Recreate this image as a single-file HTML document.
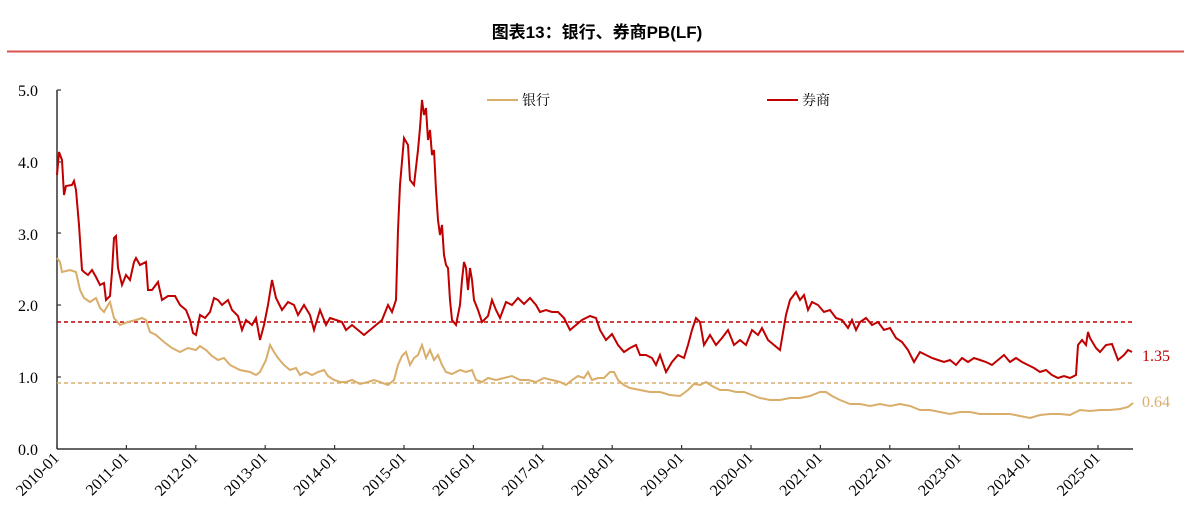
<!DOCTYPE html>
<html><head><meta charset="utf-8"><style>
body{margin:0;background:#fff;width:1194px;height:525px;overflow:hidden}
svg text{font-family:"Liberation Serif","Noto Serif CJK SC",serif}
</style></head><body>
<svg width="1194" height="525" viewBox="0 0 1194 525" xmlns="http://www.w3.org/2000/svg">
<text x="597" y="38" text-anchor="middle" font-size="17" font-weight="bold" style="font-family:'Liberation Sans','Noto Sans CJK SC',sans-serif">图表13：银行、券商PB(LF)</text>
<line x1="7" y1="51.5" x2="1184" y2="51.5" stroke="#d9534f" stroke-width="2"/>
<g font-size="16" fill="#000" text-anchor="end">
<text x="38" y="96">5.0</text><text x="38" y="168">4.0</text><text x="38" y="240">3.0</text><text x="38" y="311">2.0</text><text x="38" y="383">1.0</text><text x="38" y="455">0.0</text>
</g>
<line x1="57" y1="90" x2="57" y2="449" stroke="#333" stroke-width="1.5"/>
<line x1="57" y1="449" x2="1133" y2="449" stroke="#333" stroke-width="1.5"/>
<g stroke="#333" stroke-width="1.2">
<line x1="57" y1="90" x2="61" y2="90"/><line x1="57" y1="162" x2="61" y2="162"/><line x1="57" y1="233" x2="61" y2="233"/><line x1="57" y1="305" x2="61" y2="305"/><line x1="57" y1="377" x2="61" y2="377"/>
</g>
<line x1="57" y1="322" x2="1133" y2="322" stroke="#c00000" stroke-width="1.5" stroke-dasharray="4,3"/>
<line x1="57" y1="383" x2="1133" y2="383" stroke="#d9ad6a" stroke-width="1.5" stroke-dasharray="4,3"/>
<polyline fill="none" stroke="#d9ad6a" stroke-width="2" points="57,258 60,262 62,272 70,270 76,272 80,290 84,298 90,302 96,298 100,308 104,312 108,305 110,302 114,318 120,325 128,322 136,320 142,318 146,320 150,332 156,335 164,342 172,348 180,352 188,348 196,350 200,346 206,350 212,356 218,360 224,358 230,365 240,370 250,372 256,375 260,372 266,360 270,345 274,352 278,358 284,365 290,370 296,368 300,375 306,372 312,375 318,372 324,370 328,376 334,380 340,382 346,382 352,380 360,384 368,382 374,380 380,382 388,385 394,380 398,365 402,356 406,352 410,365 414,358 418,355 422,345 426,358 430,350 434,360 438,355 442,365 446,372 452,374 460,370 466,372 472,370 476,380 482,382 488,378 496,380 504,378 512,376 520,380 528,380 536,382 544,378 552,380 560,382 566,385 572,380 578,376 584,378 588,372 592,380 598,378 604,378 610,372 614,372 618,380 624,385 630,388 640,390 650,392 660,392 670,395 680,396 688,390 694,384 700,385 706,382 712,386 720,390 728,390 736,392 744,392 752,395 760,398 770,400 780,400 790,398 800,398 810,396 820,392 826,392 832,396 840,400 850,404 860,404 870,406 880,404 890,406 900,404 910,406 920,410 930,410 940,412 950,414 960,412 970,412 980,414 990,414 1000,414 1010,414 1020,416 1030,418 1040,415 1050,414 1060,414 1070,415 1076,412 1080,410 1090,411 1100,410 1110,410 1120,409 1128,407 1133,403"/>
<polyline fill="none" stroke="#c00000" stroke-width="2" points="57,175 59,152 62,160 64,195 66,186 72,185 74,181 76,190 79,225 82,270 84,272 88,275 92,270 96,277 100,285 104,283 106,300 110,296 112,272 114,238 116,236 118,268 122,285 126,275 130,280 134,262 136,258 140,265 146,262 148,290 152,290 158,282 162,300 168,296 175,296 180,305 186,310 190,320 193,333 196,335 200,315 205,318 210,312 214,298 218,300 222,305 228,300 232,310 238,316 242,330 246,320 252,325 256,318 260,340 264,325 268,305 272,280 276,298 282,310 288,302 294,305 298,315 304,305 310,315 314,330 320,310 326,325 330,318 336,320 342,322 346,330 352,325 358,330 364,335 370,330 376,325 382,320 388,305 392,312 396,300 398,230 400,185 404,138 408,145 410,180 414,185 418,150 420,128 422,100 424,115 426,108 428,140 430,130 432,155 434,150 436,190 438,220 440,235 442,225 444,255 446,265 448,268 450,300 452,320 456,325 460,305 462,280 464,262 466,268 468,290 470,268 472,280 474,300 478,310 482,322 488,316 492,300 496,310 500,318 506,302 512,305 518,298 524,304 530,298 536,305 540,312 546,310 552,312 558,312 564,318 570,330 576,325 582,320 590,316 596,318 600,330 606,340 612,334 618,345 624,352 630,348 636,345 640,355 646,355 652,358 656,365 660,355 666,372 672,362 678,355 684,358 688,345 692,330 696,318 700,322 704,345 710,335 716,345 722,338 728,330 734,345 740,340 746,345 752,330 758,335 762,328 768,340 774,345 780,350 786,315 790,300 796,292 800,300 804,295 808,310 812,302 818,305 824,312 830,310 836,318 842,320 848,328 852,320 856,330 860,322 866,318 872,325 878,322 884,330 890,328 896,338 902,342 908,350 914,362 920,352 926,355 932,358 938,360 944,362 950,360 956,365 962,358 968,362 974,358 980,360 986,362 992,365 998,360 1004,355 1010,362 1016,358 1022,362 1028,365 1034,368 1040,372 1046,370 1052,375 1058,378 1064,376 1070,378 1076,375 1078,345 1082,340 1086,345 1088,332 1090,338 1096,348 1100,352 1106,345 1112,344 1118,360 1124,355 1128,350 1132,352"/>
<text x="1142" y="361" font-size="16" fill="#c00000">1.35</text>
<text x="1142" y="407" font-size="16" fill="#d9ad6a">0.64</text>
<line x1="487" y1="100" x2="518" y2="100" stroke="#d9ad6a" stroke-width="2"/>
<text x="522" y="105" font-size="14">银行</text>
<line x1="767" y1="100" x2="798" y2="100" stroke="#c00000" stroke-width="2"/>
<text x="802" y="105" font-size="14">券商</text>
<g font-size="16" fill="#000" text-anchor="end" stroke="#333" stroke-width="1.2">
<g transform="translate(57,0)"><line x1="0" y1="449" x2="0" y2="445"/><text stroke="none" transform="translate(3,459) rotate(-45)">2010-01</text></g>
<g transform="translate(126.4,0)"><line x1="0" y1="449" x2="0" y2="445"/><text stroke="none" transform="translate(3,459) rotate(-45)">2011-01</text></g>
<g transform="translate(195.8,0)"><line x1="0" y1="449" x2="0" y2="445"/><text stroke="none" transform="translate(3,459) rotate(-45)">2012-01</text></g>
<g transform="translate(265.2,0)"><line x1="0" y1="449" x2="0" y2="445"/><text stroke="none" transform="translate(3,459) rotate(-45)">2013-01</text></g>
<g transform="translate(334.6,0)"><line x1="0" y1="449" x2="0" y2="445"/><text stroke="none" transform="translate(3,459) rotate(-45)">2014-01</text></g>
<g transform="translate(404,0)"><line x1="0" y1="449" x2="0" y2="445"/><text stroke="none" transform="translate(3,459) rotate(-45)">2015-01</text></g>
<g transform="translate(473.4,0)"><line x1="0" y1="449" x2="0" y2="445"/><text stroke="none" transform="translate(3,459) rotate(-45)">2016-01</text></g>
<g transform="translate(542.8,0)"><line x1="0" y1="449" x2="0" y2="445"/><text stroke="none" transform="translate(3,459) rotate(-45)">2017-01</text></g>
<g transform="translate(612.2,0)"><line x1="0" y1="449" x2="0" y2="445"/><text stroke="none" transform="translate(3,459) rotate(-45)">2018-01</text></g>
<g transform="translate(681.6,0)"><line x1="0" y1="449" x2="0" y2="445"/><text stroke="none" transform="translate(3,459) rotate(-45)">2019-01</text></g>
<g transform="translate(751,0)"><line x1="0" y1="449" x2="0" y2="445"/><text stroke="none" transform="translate(3,459) rotate(-45)">2020-01</text></g>
<g transform="translate(820.4,0)"><line x1="0" y1="449" x2="0" y2="445"/><text stroke="none" transform="translate(3,459) rotate(-45)">2021-01</text></g>
<g transform="translate(889.8,0)"><line x1="0" y1="449" x2="0" y2="445"/><text stroke="none" transform="translate(3,459) rotate(-45)">2022-01</text></g>
<g transform="translate(959.2,0)"><line x1="0" y1="449" x2="0" y2="445"/><text stroke="none" transform="translate(3,459) rotate(-45)">2023-01</text></g>
<g transform="translate(1028.6,0)"><line x1="0" y1="449" x2="0" y2="445"/><text stroke="none" transform="translate(3,459) rotate(-45)">2024-01</text></g>
<g transform="translate(1098,0)"><line x1="0" y1="449" x2="0" y2="445"/><text stroke="none" transform="translate(3,459) rotate(-45)">2025-01</text></g>
</g>
</svg>
</body></html>
